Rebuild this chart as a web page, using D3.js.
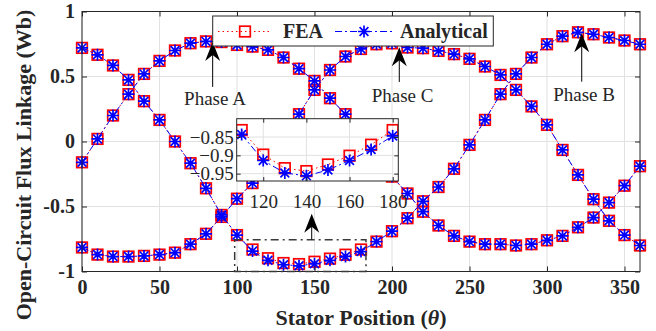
<!DOCTYPE html>
<html>
<head>
<meta charset="utf-8">
<script src="https://cdn.jsdelivr.net/npm/d3@7"></script>
<style>
  body { margin: 0; background: #fff; }
  text { font-family: "Liberation Serif", "Times New Roman", serif; fill: #262626; }
</style>
</head>
<body>
<svg id="chart" width="656" height="331"></svg>
<script>
// stator position (deg)
var angles = [0, 10, 20, 30, 40, 50, 60, 70, 80, 90, 100, 110, 120, 130, 140, 150, 160, 170, 180,
  190, 200, 210, 220, 230, 240, 250, 260, 270, 280, 290, 300, 310, 320, 330, 340, 350, 360];

// analytical flux linkage (Wb)
var anaA = [-0.16, 0.02, 0.20, 0.364, 0.52, 0.62, 0.70, 0.756, 0.77, 0.765, 0.743, 0.73, 0.705, 0.646, 0.56, 0.466, 0.333, 0.21, 0.05,
  -0.12, -0.27, -0.40, -0.54, -0.646, -0.726, -0.77, -0.79, -0.79, -0.80, -0.79, -0.76, -0.726, -0.66, -0.585, -0.47, -0.34, -0.19];
var anaB = [0.72, 0.667, 0.585, 0.474, 0.31, 0.166, 0.0, -0.167, -0.36, -0.565, -0.72, -0.843, -0.914, -0.948, -0.956, -0.94, -0.914, -0.884, -0.847,
  -0.77, -0.69, -0.59, -0.46, -0.35, -0.21, -0.026, 0.166, 0.364, 0.52, 0.646, 0.748, 0.81, 0.84, 0.825, 0.80, 0.777, 0.748];
var anaC = [-0.815, -0.87, -0.885, -0.885, -0.88, -0.87, -0.855, -0.79, -0.71, -0.58, -0.44, -0.32, -0.14, 0.035, 0.21, 0.397, 0.55, 0.654, 0.712,
  0.748, 0.755, 0.723, 0.718, 0.697, 0.672, 0.636, 0.577, 0.512, 0.397, 0.27, 0.128, -0.065, -0.257, -0.444, -0.61, -0.72, -0.80];

// FEA flux linkage (Wb)
var feaA = [-0.16, 0.02, 0.20, 0.364, 0.52, 0.62, 0.70, 0.756, 0.77, 0.765, 0.743, 0.73, 0.705, 0.646, 0.56, 0.466, 0.333, 0.21, 0.05,
  -0.12, -0.27, -0.40, -0.54, -0.646, -0.726, -0.77, -0.79, -0.79, -0.80, -0.79, -0.76, -0.726, -0.66, -0.585, -0.47, -0.34, -0.19];
var feaB = [0.72, 0.667, 0.585, 0.474, 0.31, 0.166, 0.0, -0.167, -0.36, -0.565, -0.72, -0.831, -0.898, -0.935, -0.943, -0.925, -0.901, -0.871, -0.831,
  -0.77, -0.69, -0.59, -0.46, -0.35, -0.21, -0.026, 0.166, 0.364, 0.52, 0.646, 0.748, 0.81, 0.84, 0.825, 0.80, 0.777, 0.748];
var feaC = [-0.815, -0.87, -0.885, -0.885, -0.88, -0.87, -0.855, -0.79, -0.71, -0.58, -0.44, -0.32, -0.14, 0.035, 0.21, 0.397, 0.55, 0.654, 0.712,
  0.748, 0.755, 0.723, 0.718, 0.697, 0.672, 0.636, 0.577, 0.512, 0.397, 0.27, 0.128, -0.065, -0.257, -0.444, -0.61, -0.72, -0.80];

var xTicks = [0, 50, 100, 150, 200, 250, 300, 350];
var yTicks = [-1, -0.5, 0, 0.5, 1];
var insetXTicks = [120, 140, 160, 180];
var insetYTicks = [-0.95, -0.9, -0.85];
var seriesNames = ["FEA", "Analytical"];
var phaseNames = ["Phase A", "Phase C", "Phase B"];

var svg = d3.select("#chart");
var ink = "#262626";
var serif = '"Liberation Serif", "Times New Roman", serif';

var x = d3.scaleLinear().domain([0, 360]).range([82, 640]);
var y = d3.scaleLinear().domain([-1, 1]).range([271.5, 11.5]);

function zip(vals) {
  return angles.map(function (a, i) { return { a: a, v: vals[i] }; });
}

// grid
var grid = svg.append("g");
grid.selectAll(".gx").data(xTicks).enter().append("line")
  .attr("x1", function (d) { return x(d); }).attr("x2", function (d) { return x(d); })
  .attr("y1", y(-1)).attr("y2", y(1))
  .attr("stroke", "#e1e1e1");
grid.selectAll(".gy").data(yTicks).enter().append("line")
  .attr("x1", x(0)).attr("x2", x(360))
  .attr("y1", function (d) { return y(d); }).attr("y2", function (d) { return y(d); })
  .attr("stroke", "#e1e1e1");

// markers
function square(g, px, py) {
  g.append("rect").attr("x", px - 5.3).attr("y", py - 5.3).attr("width", 10.6).attr("height", 10.6)
    .attr("fill", "none").attr("stroke", "#ff0000").attr("stroke-width", 1.7);
}
function star(g, px, py) {
  var r = 6, q = 4.4;
  g.append("path")
    .attr("d", "M" + (px - r) + "," + py + "H" + (px + r) + "M" + px + "," + (py - r) + "V" + (py + r) +
      "M" + (px - q) + "," + (py - q) + "L" + (px + q) + "," + (py + q) +
      "M" + (px - q) + "," + (py + q) + "L" + (px + q) + "," + (py - q))
    .attr("stroke", "#0000ff").attr("stroke-width", 1.7).attr("fill", "none");
}

function drawSeries(g, sx, sy, data, kind) {
  var line = d3.line().x(function (d) { return sx(d.a); }).y(function (d) { return sy(d.v); });
  g.append("path").datum(data).attr("d", line).attr("fill", "none")
    .attr("stroke", kind == "fea" ? "#ff0000" : "#0000ff")
    .attr("stroke-width", 1)
    .attr("stroke-dasharray", kind == "fea" ? "1.5,3" : "7,3,2,3");
  data.forEach(function (d) {
    if (kind == "fea") square(g, sx(d.a), sy(d.v));
    else star(g, sx(d.a), sy(d.v));
  });
}

var plot = svg.append("g");
[feaA, feaB, feaC].forEach(function (s) { drawSeries(plot, x, y, zip(s), "fea"); });
[anaA, anaB, anaC].forEach(function (s) { drawSeries(plot, x, y, zip(s), "ana"); });

// axes box + inward ticks
svg.append("rect").attr("x", x(0)).attr("y", y(1)).attr("width", x(360) - x(0)).attr("height", y(-1) - y(1))
  .attr("fill", "none").attr("stroke", ink).attr("stroke-width", 1);

function styleAxis(g, size, bold) {
  g.select(".domain").remove();
  g.selectAll("line").attr("stroke", ink);
  g.selectAll("text").style("font-family", serif)
    .style("font-size", size + "px").style("font-weight", bold ? "bold" : "normal").attr("fill", ink);
}
var fmt = function (d) { return String(d); };
styleAxis(svg.append("g").attr("transform", "translate(0," + y(-1) + ")")
  .call(d3.axisBottom(x).tickValues(xTicks).tickSize(-5).tickPadding(8).tickFormat(fmt)), 20, true);
styleAxis(svg.append("g").attr("transform", "translate(0," + y(1) + ")")
  .call(d3.axisTop(x).tickValues(xTicks).tickSize(-5).tickFormat("")), 20, true);
styleAxis(svg.append("g").attr("transform", "translate(" + x(0) + ",0)")
  .call(d3.axisLeft(y).tickValues(yTicks).tickSize(-5).tickPadding(7).tickFormat(fmt)), 20, true);
styleAxis(svg.append("g").attr("transform", "translate(" + x(360) + ",0)")
  .call(d3.axisRight(y).tickValues(yTicks).tickSize(-5).tickFormat("")), 20, true);

// axis labels
svg.append("text").attr("x", (x(0) + x(360)) / 2).attr("y", 325).attr("text-anchor", "middle")
  .style("font-family", serif).style("font-size", "22px").style("font-weight", "bold")
  .html('Stator Position (<tspan font-style="italic">θ</tspan>)');
svg.append("text").attr("transform", "translate(31,165) rotate(-90)").attr("text-anchor", "middle")
  .style("font-family", serif).style("font-size", "22px").style("font-weight", "bold")
  .text("Open-Circuit Flux Linkage (Wb)");

// zoom region (dash-dot box)
svg.append("rect").attr("x", x(98.5)).attr("y", y(-0.755)).attr("width", x(183.2) - x(98.5)).attr("height", y(-1) - y(-0.755))
  .attr("fill", "none").attr("stroke", "#3a3a3a").attr("stroke-width", 1.5).attr("stroke-dasharray", "8,4,2,4");

// arrows
function arrow(xv, vTail, vTip) {
  var px = x(xv), t = y(vTail), h = y(vTip);
  svg.append("line").attr("x1", px).attr("x2", px).attr("y1", t).attr("y2", h + 12)
    .attr("stroke", "#000").attr("stroke-width", 1);
  svg.append("path")
    .attr("d", "M" + px + "," + h + "L" + (px - 7.5) + "," + (h + 19) + "L" + px + "," + (h + 13) + "L" + (px + 7.5) + "," + (h + 19) + "Z")
    .attr("fill", "#000");
}
arrow(84.3, 0.42, 0.766);
arrow(204.7, 0.458, 0.725);
arrow(322.4, 0.46, 0.832);
arrow(148.2, -0.754, -0.555);

var phasePos = [[85.8, 0.28], [206.8, 0.304], [323.9, 0.314]];
phaseNames.forEach(function (n, i) {
  svg.append("text").attr("x", x(phasePos[i][0])).attr("y", y(phasePos[i][1]))
    .attr("text-anchor", "middle").style("font-family", serif).style("font-size", "19px").text(n);
});

// inset
var xi = d3.scaleLinear().domain([107.7, 182.6]).range([236.7, 398.3]);
var yi = d3.scaleLinear().domain([-0.97, -0.80]).range([181, 118.7]);
var inset = svg.append("g");
inset.append("rect").attr("x", 236.7).attr("y", 118.7).attr("width", 398.3 - 236.7).attr("height", 181 - 118.7)
  .attr("fill", "#fff");
inset.append("clipPath").attr("id", "ic").append("rect")
  .attr("x", 236.7).attr("y", 118.7).attr("width", 398.3 - 236.7).attr("height", 181 - 118.7);
inset.selectAll(".igx").data(insetXTicks).enter().append("line")
  .attr("x1", function (d) { return xi(d); }).attr("x2", function (d) { return xi(d); })
  .attr("y1", 118.7).attr("y2", 181).attr("stroke", "#e1e1e1");
inset.selectAll(".igy").data(insetYTicks).enter().append("line")
  .attr("x1", 236.7).attr("x2", 398.3)
  .attr("y1", function (d) { return yi(d); }).attr("y2", function (d) { return yi(d); }).attr("stroke", "#e1e1e1");
var inner = inset.append("g").attr("clip-path", "url(#ic)");
function inRange(d) { return d.a >= 110 && d.a <= 180; }
drawSeries(inner, xi, yi, zip(feaB).filter(inRange), "fea");
drawSeries(inner, xi, yi, zip(anaB).filter(inRange), "ana");
inset.append("rect").attr("x", 236.7).attr("y", 118.7).attr("width", 398.3 - 236.7).attr("height", 181 - 118.7)
  .attr("fill", "none").attr("stroke", ink).attr("stroke-width", 1);
var ifmt = function (d) { return String(d).replace("-", "\u2212"); };
styleAxis(inset.append("g").attr("transform", "translate(0,181)")
  .call(d3.axisBottom(xi).tickValues(insetXTicks).tickSize(-4).tickPadding(14).tickFormat(ifmt)), 19, false);
styleAxis(inset.append("g").attr("transform", "translate(0,118.7)")
  .call(d3.axisTop(xi).tickValues(insetXTicks).tickSize(-4).tickFormat("")), 19, false);
styleAxis(inset.append("g").attr("transform", "translate(236.7,0)")
  .call(d3.axisLeft(yi).tickValues(insetYTicks).tickSize(-4).tickPadding(3).tickFormat(ifmt)), 19, false);
styleAxis(inset.append("g").attr("transform", "translate(398.3,0)")
  .call(d3.axisRight(yi).tickValues(insetYTicks).tickSize(-4).tickFormat("")), 19, false);

// legend
var lg = svg.append("g");
lg.append("rect").attr("x", 212.7).attr("y", 16).attr("width", 280.6).attr("height", 30)
  .attr("fill", "#fff").attr("stroke", ink).attr("stroke-width", 1);
lg.append("line").attr("x1", 218).attr("x2", 272).attr("y1", 31.5).attr("y2", 31.5)
  .attr("stroke", "#ff0000").attr("stroke-dasharray", "1.5,3");
square(lg, 245, 31.5);
lg.append("text").attr("x", 283).attr("y", 38.3).style("font-family", serif)
  .style("font-size", "20px").style("font-weight", "bold").text(seriesNames[0]);
lg.append("line").attr("x1", 335).attr("x2", 395).attr("y1", 31.5).attr("y2", 31.5)
  .attr("stroke", "#0000ff").attr("stroke-dasharray", "7,3,2,3");
star(lg, 364, 31.5);
lg.append("text").attr("x", 400).attr("y", 38.3).style("font-family", serif)
  .style("font-size", "20px").style("font-weight", "bold").text(seriesNames[1]);
</script>
</body>
</html>
